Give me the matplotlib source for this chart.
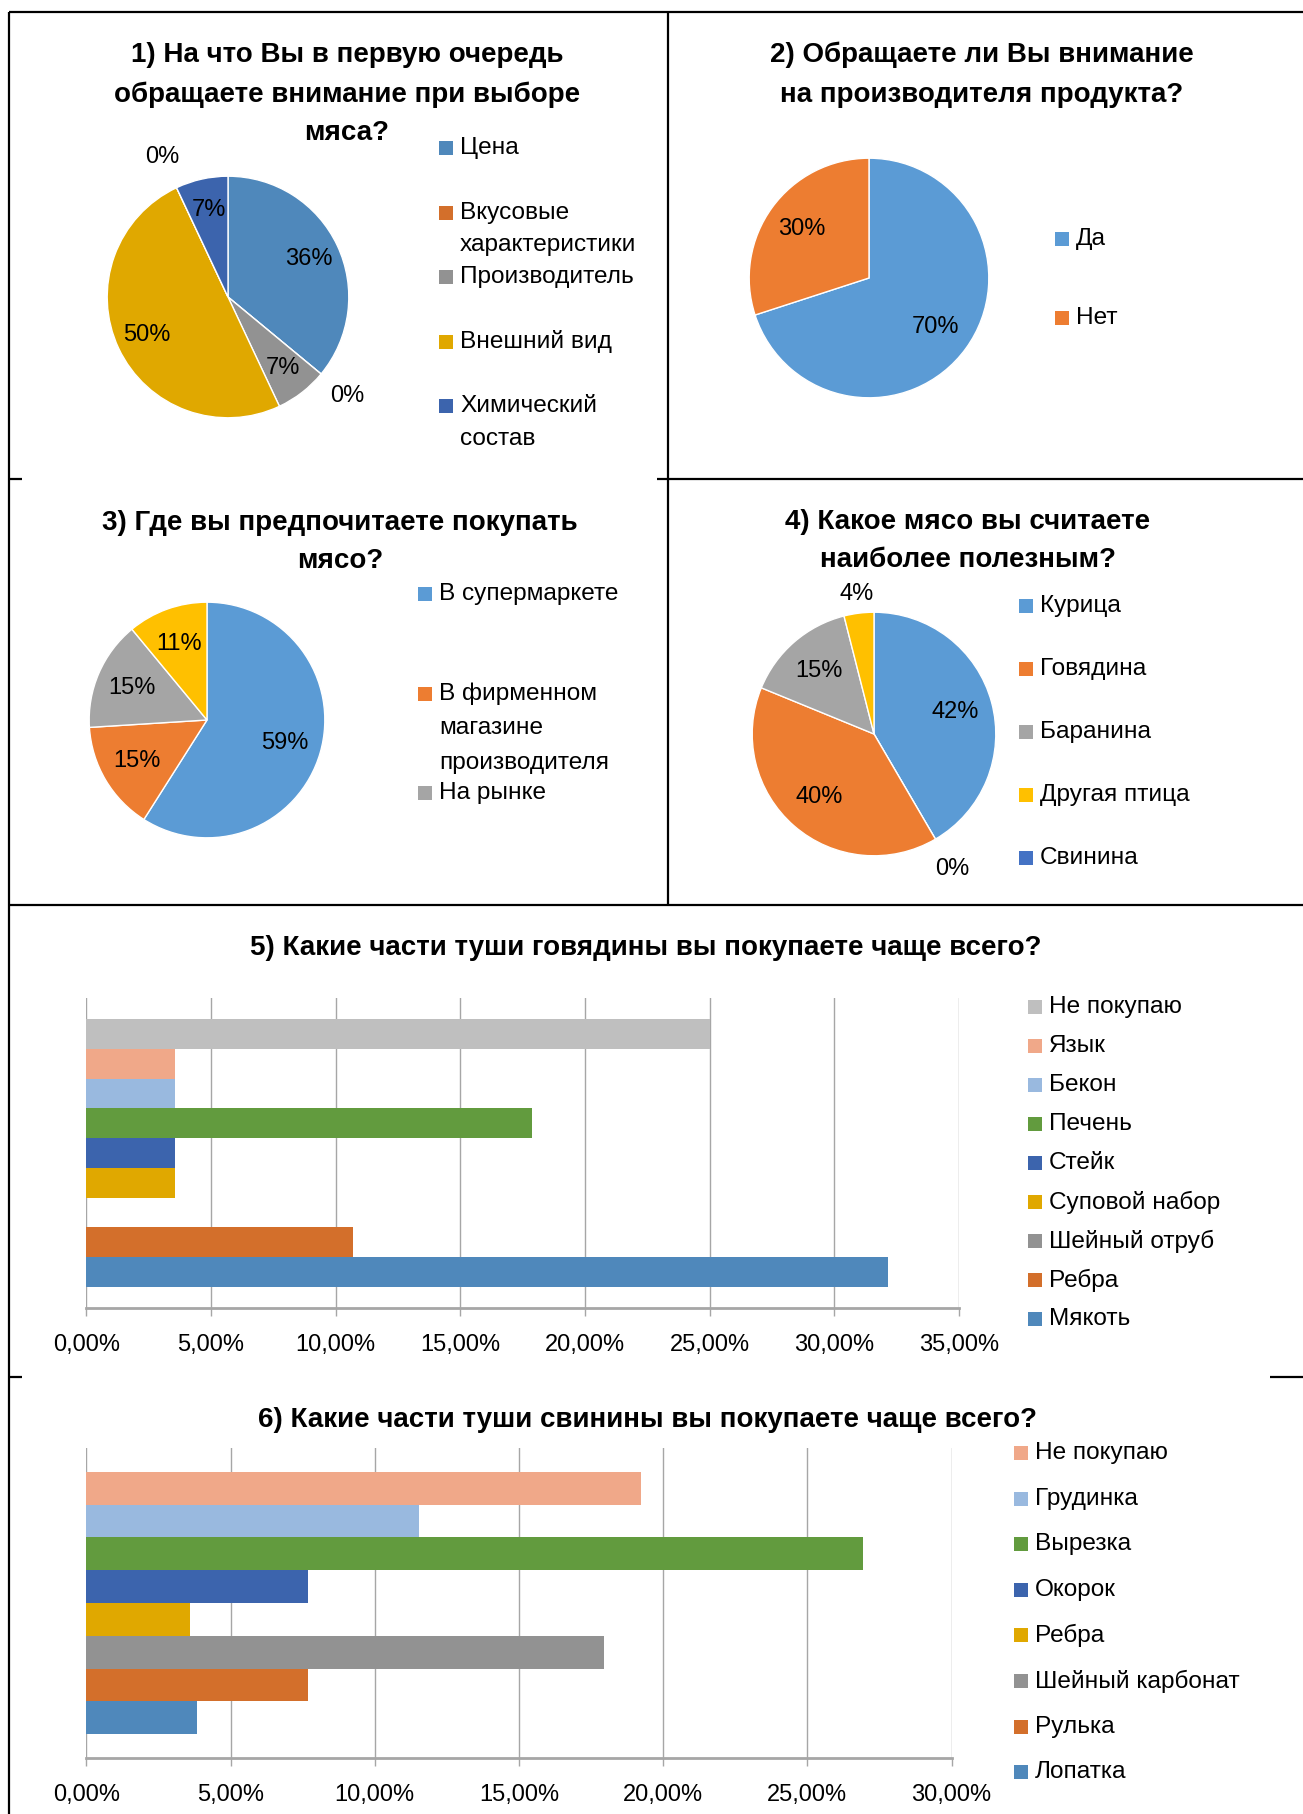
import numpy as np
import matplotlib
matplotlib.use('Agg')
import matplotlib.pyplot as plt
from matplotlib.lines import Line2D
from matplotlib.patches import Rectangle

plt.rcParams['font.family'] = ['Liberation Sans', 'DejaVu Sans']

# 1) На что Вы в первую очередь обращаете внимание (порядок секторов по кругу)
q1_names = ['Цена', 'Вкусовые\nхарактеристики', 'Производитель', 'Внешний вид', '', 'Химический\nсостав']
q1_values = [36, 0, 7, 50, 0, 7]
q1_colors = ['#4F88BB', '#D36F2B', '#929292', '#E0A800', '#629B3E', '#3C64AD']

# 2) Обращаете ли Вы внимание на производителя
q2_names = ['Да', 'Нет']
q2_values = [70, 30]
q2_colors = ['#5B9BD5', '#ED7D31']

# 3) Где вы предпочитаете покупать мясо
q3_names = ['В супермаркете', 'В фирменном\nмагазине\nпроизводителя', 'На рынке', '']
q3_values = [59, 15, 15, 11]
q3_colors = ['#5B9BD5', '#ED7D31', '#A5A5A5', '#FFC000']

# 4) Какое мясо вы считаете наиболее полезным (порядок секторов по кругу)
q4_names = ['Курица', 'Свинина', 'Говядина', 'Баранина', 'Другая птица']
q4_values = [42, 0, 40, 15, 4]
q4_colors = ['#5B9BD5', '#4472C4', '#ED7D31', '#A5A5A5', '#FFC000']
q4_legend_order = [0, 2, 3, 4, 1]

# 5) Говядина
beef_parts = ['Мякоть', 'Ребра', 'Шейный отруб', 'Суповой набор', 'Стейк',
              'Печень', 'Бекон', 'Язык', 'Не покупаю']
beef_share = [32.14, 10.71, 0, 3.57, 3.57, 17.86, 3.57, 3.57, 25.0]
beef_colors = ['#4F88BB', '#D36F2B', '#929292', '#E0A800', '#3C64AD',
               '#629B3E', '#99B9DF', '#F0A889', '#BFBFBF']

# 6) Свинина
pork_parts = ['Лопатка', 'Рулька', 'Шейный карбонат', 'Ребра', 'Окорок',
              'Вырезка', 'Грудинка', 'Не покупаю']
pork_share = [3.85, 7.69, 17.95, 3.6, 7.69, 26.92, 11.54, 19.23]
pork_colors = ['#4F88BB', '#D36F2B', '#929292', '#E0A800', '#3C64AD',
               '#629B3E', '#99B9DF', '#F0A889']

W, H = 1303, 1814
TXT = 17
LEG = 17.6
TTL = 20

fig = plt.figure(figsize=(W / 100, H / 100), dpi=100)


def fx(x):
    return x / W


def fy(y):
    return 1 - y / H


def px_axes(x0, y0, x1, y1):
    return fig.add_axes([x0 / W, 1 - y1 / H, (x1 - x0) / W, (y1 - y0) / H])


def line(x0, y0, x1, y1):
    fig.add_artist(Line2D([fx(x0), fx(x1)], [fy(y0), fy(y1)], transform=fig.transFigure,
                          color='black', lw=1.6, solid_capstyle='butt'))


def title(cx, ys, lines):
    for y, t in zip(ys, lines):
        fig.text(fx(cx), fy(y), t, ha='center', va='center', fontsize=TTL, fontweight='bold')


def legend(xm, y0, dy, names, colors, lstep=33, size=14):
    i = 0
    for n, c in zip(names, colors):
        if not n:
            continue
        y = y0 + i * dy
        fig.add_artist(Rectangle((fx(xm), fy(y + size / 2)), size / W, size / H,
                                 transform=fig.transFigure, color=c, lw=0))
        for k, part in enumerate(n.split('\n')):
            fig.text(fx(xm + size + 7), fy(y + k * lstep), part, ha='left', va='center', fontsize=LEG)
        i += 1


def pie(cx, cy, r, values, colors, inner=0.7):
    ax = px_axes(cx - r, cy - r, cx + r, cy + r)
    ax.pie(values, colors=colors, startangle=90, counterclock=False, radius=1,
           wedgeprops=dict(edgecolor='white', linewidth=1))
    ax.set_xlim(-1.01, 1.01)
    ax.set_ylim(-1.01, 1.01)
    ax.axis('off')
    total = sum(values)
    cum = 0
    for v in values:
        mid = np.deg2rad(90 - 360 * (cum + v / 2) / total)
        cum += v
        if v == 0:
            d = 1.28
        elif v < 5:
            d = 1.16
        else:
            d = inner
        ax.text(d * np.cos(mid), d * np.sin(mid), f'{v:.0f}%', ha='center', va='center',
                fontsize=TXT, clip_on=False)


def bars(box, parts, share, colors, xmax, pad_units):
    ax = px_axes(*box)
    ypos = np.arange(len(parts))
    ax.barh(ypos, share, height=1.0, color=colors, zorder=3)
    ax.set_xlim(0, xmax)
    ax.set_ylim(-0.5 - pad_units, len(parts) - 0.5 + pad_units)
    ticks = np.arange(0, xmax + 0.1, 5)
    ax.set_xticks(ticks)
    ax.set_xticklabels([f'{t:.2f}%'.replace('.', ',') for t in ticks], fontsize=TXT)
    ax.set_yticks([])
    ax.grid(axis='x', color='#A6A6A6', lw=1, zorder=0)
    for s in ['left', 'right', 'top']:
        ax.spines[s].set_visible(False)
    ax.spines['bottom'].set_color('#A6A6A6')
    ax.spines['bottom'].set_linewidth(2)
    ax.tick_params(axis='x', direction='out', length=6, width=1, color='#A6A6A6', pad=13)
    ax.set_facecolor('none')
    return ax


# frame
line(9, 12, 1303, 12)
line(9, 12, 9, 1814)
line(668, 12, 668, 905)
line(9, 479, 22, 479)
line(657, 479, 1303, 479)
line(9, 905, 1303, 905)
line(9, 1377, 22, 1377)
line(1270, 1377, 1303, 1377)

# 1
title(347, [55, 95, 133], ['1) На что Вы в первую очередь', 'обращаете внимание при выборе', 'мяса?'])
pie(228, 297, 122, q1_values, q1_colors, inner=0.74)
legend(439, 148, 64.5, q1_names, q1_colors)

# 2
title(982, [55, 95], ['2) Обращаете ли Вы внимание', 'на производителя продукта?'])
pie(869, 278, 121, q2_values, q2_colors, inner=0.69)
legend(1055, 239, 79, q2_names, q2_colors)

# 3
title(340, [523, 561], ['3) Где вы предпочитаете покупать', 'мясо?'])
pie(207, 720, 119, q3_values, q3_colors, inner=0.69)
legend(418, 594, 99.5, q3_names, q3_colors, lstep=34.5)

# 4
title(968, [522, 560], ['4) Какое мясо вы считаете', 'наиболее полезным?'])
pie(874, 734, 123, q4_values, q4_colors, inner=0.69)
legend(1019, 606, 63, [q4_names[i] for i in q4_legend_order], [q4_colors[i] for i in q4_legend_order])

# 5
title(646, [948], ['5) Какие части туши говядины вы покупаете чаще всего?'])
bars((86.4, 998, 959, 1308), beef_parts, beef_share, beef_colors, 35, 0.72)
legend(1028, 1007, 39, beef_parts[::-1], beef_colors[::-1])

# 6
title(647, [1420], ['6) Какие части туши свинины вы покупаете чаще всего?'])
bars((86.4, 1448, 951.5, 1758), pork_parts, pork_share, pork_colors, 30, 0.73)
legend(1014, 1453, 45.6, pork_parts[::-1], pork_colors[::-1])

fig.savefig('out.png', dpi=100)
